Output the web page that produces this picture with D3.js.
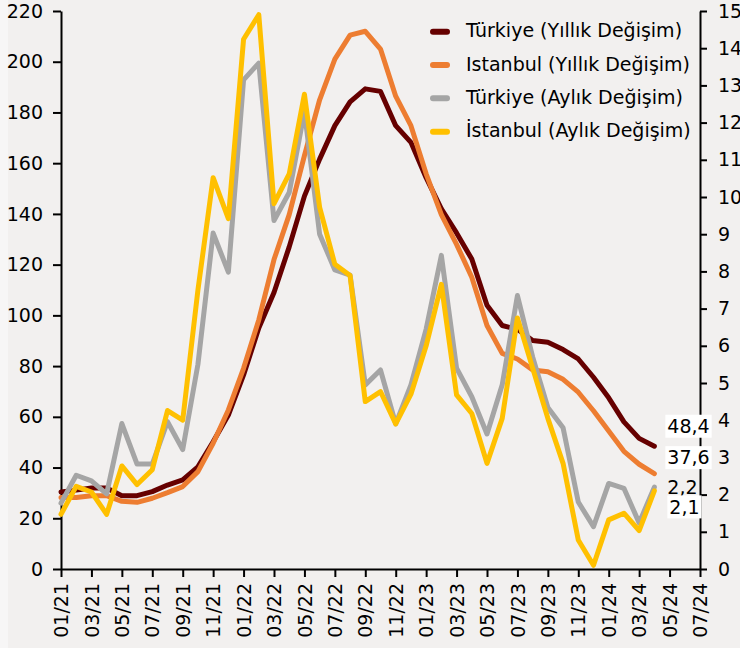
<!DOCTYPE html>
<html>
<head>
<meta charset="utf-8">
<script src="https://cdn.jsdelivr.net/npm/d3@7"></script>
<style>
  html, body { margin: 0; padding: 0; background: #f2f0ef; }
  svg { display: block; }
  text { font-family: "DejaVu Sans", Verdana, sans-serif; fill: #000; }
</style>
</head>
<body>
<svg id="chart" width="740" height="648"></svg>
<script>
// ---- DATA ----
const months = ["01/21","02/21","03/21","04/21","05/21","06/21","07/21","08/21","09/21","10/21","11/21","12/21",
  "01/22","02/22","03/22","04/22","05/22","06/22","07/22","08/22","09/22","10/22","11/22","12/22",
  "01/23","02/23","03/23","04/23","05/23","06/23","07/23","08/23","09/23","10/23","11/23","12/23",
  "01/24","02/24","03/24","04/24","05/24","06/24","07/24"];
const tickLabels = ["01/21","03/21","05/21","07/21","09/21","11/21","01/22","03/22","05/22","07/22","09/22","11/22",
  "01/23","03/23","05/23","07/23","09/23","11/23","01/24","03/24","05/24","07/24"];
const leftTicks = [0,20,40,60,80,100,120,140,160,180,200,220];
const rightTicks = [0,1,2,3,4,5,6,7,8,9,10,11,12,13,14,15];

const turkiyeYillik = [30.4,31.1,31.9,31.9,28.9,28.9,30.5,33.1,35.1,40.3,50.2,60.7,
  76.5,95,109,127,147,161.6,174.8,184.2,189.3,188.3,174.8,168.2,
  154.3,142,132.5,122.2,104,96,94.5,90.1,89.4,86.5,82.8,75.6,
  67.5,58,51.5,48.4];
const istanbulYillik = [28.2,28.2,28.9,28.9,26.7,26.3,27.9,30.1,32.5,38.4,49.6,62.7,
  79.1,98.2,122,139.7,163,185,201,210.5,212,205,186.4,174.8,
  155.8,139.7,128,115,96,85,82.8,78.5,77.8,74.8,69.7,62.4,
  54.4,46.4,41.3,37.6];
const turkiyeAylik = [1.77,2.52,2.37,2.02,3.91,2.82,2.82,3.96,3.21,5.5,9.03,7.98,
  13.15,13.6,9.37,10.12,12.3,9.0,8.04,7.9,4.95,5.35,3.9,4.95,
  6.45,8.43,5.4,4.63,3.63,4.95,7.35,5.7,4.34,3.8,1.8,1.14,
  2.3,2.17,1.24,2.2];
const istanbulAylik = [1.47,2.22,2.07,1.47,2.77,2.27,2.67,4.26,4.0,7.5,10.52,9.42,
  14.24,14.9,9.82,10.62,12.76,9.72,8.19,7.89,4.5,4.77,3.9,4.7,
  6.0,7.65,4.68,4.18,2.84,4.05,6.75,5.4,4.05,2.84,0.78,0.1,
  1.32,1.5,1.03,2.1];

const seriesNames = ["Türkiye (Yıllık Değişim)","Istanbul (Yıllık Değişim)","Türkiye (Aylık Değişim)","İstanbul (Aylık Değişim)"];
const seriesColors = ["#660000","#ed7d31","#a5a5a5","#ffc000"];
const endLabels = ["48,4","37,6","2,2","2,1"];

// ---- LAYOUT ----
const svg = d3.select("#chart");
const W = 740, H = 648;
const xL = 61, xR = 700, yT = 11, yB = 569;

svg.append("rect").attr("width", W).attr("height", H).attr("fill", "#f2f0ef");
svg.append("rect").attr("width", 8).attr("height", H).attr("fill", "#f7f6f6");

const x = d3.scaleLinear().domain([0, months.length - 1]).range([xL, xR]);
const yLeft = d3.scaleLinear().domain([0, 220]).range([yB, yT]);
const yRight = d3.scaleLinear().domain([0, 15]).range([yB, yT]);

// axes
const fontSize = 19;
const gL = svg.append("g").attr("transform", `translate(${xL},0)`)
  .call(d3.axisLeft(yLeft).tickValues(leftTicks).tickSize(8).tickPadding(10).tickSizeOuter(0));
const gR = svg.append("g").attr("transform", `translate(${xR},0)`)
  .call(d3.axisRight(yRight).tickValues(rightTicks).tickSize(7).tickPadding(11).tickSizeOuter(0));
const gB = svg.append("g").attr("transform", `translate(0,${yB})`)
  .call(d3.axisBottom(x).tickValues(tickLabels.map(t => months.indexOf(t)))
    .tickFormat(i => months[i]).tickSize(8).tickSizeOuter(0));

[gL, gR, gB].forEach(g => {
  g.selectAll("path.domain").attr("stroke", "#000").attr("stroke-width", 2);
  g.selectAll(".tick line").attr("stroke", "#000").attr("stroke-width", 2);
  g.selectAll("text").attr("font-size", fontSize).attr("font-family", "DejaVu Sans, sans-serif").attr("fill", "#000");
});
gB.selectAll(".tick text")
  .attr("transform", "rotate(-90)")
  .attr("text-anchor", "end")
  .attr("x", -14)
  .attr("y", 0)
  .attr("dy", "0.35em");

// lines
const seriesData = [
  { vals: turkiyeYillik, scale: yLeft },
  { vals: istanbulYillik, scale: yLeft },
  { vals: turkiyeAylik, scale: yRight },
  { vals: istanbulAylik, scale: yRight }
];
seriesData.forEach((s, k) => {
  const line = d3.line().x((d, i) => x(i)).y(d => s.scale(d));
  svg.append("path")
    .datum(s.vals)
    .attr("d", line)
    .attr("fill", "none")
    .attr("stroke", seriesColors[k])
    .attr("stroke-width", 5)
    .attr("stroke-linejoin", "round")
    .attr("stroke-linecap", "round");
});

// end labels
const labelOffsets = [ {dx: 13, dy: -20, box: true}, {dx: 13, dy: -16, box: true},
                       {dx: 13, dy: 0, box: false}, {dx: 15, dy: 16, box: true} ];
seriesData.forEach((s, k) => {
  const n = s.vals.length - 1;
  const px = x(n) + labelOffsets[k].dx;
  const py = s.scale(s.vals[n]) + labelOffsets[k].dy;
  const g = svg.append("g");
  const t = g.append("text")
    .attr("x", px).attr("y", py).attr("dy", "0.35em")
    .attr("font-size", fontSize)
    .text(endLabels[k]);
  if (labelOffsets[k].box) {
    const bb = t.node().getBBox();
    g.insert("rect", "text")
      .attr("x", bb.x - 2).attr("y", py - 11.5)
      .attr("width", bb.width + 4).attr("height", 23)
      .attr("fill", "#fff");
  }
});

// legend
const legY = [31.7, 65, 98.3, 131.7];
seriesNames.forEach((name, k) => {
  svg.append("line")
    .attr("x1", 433).attr("x2", 447)
    .attr("y1", legY[k]).attr("y2", legY[k])
    .attr("stroke", seriesColors[k]).attr("stroke-width", 6).attr("stroke-linecap", "round");
  svg.append("text")
    .attr("x", 466).attr("y", legY[k] + 5.5)
    .attr("font-size", fontSize)
    .text(name);
});
</script>
</body>
</html>
